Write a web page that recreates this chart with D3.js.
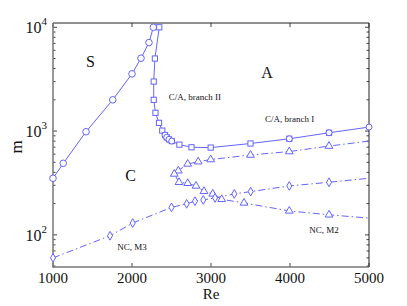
<!DOCTYPE html>
<html>
<head>
<meta charset="utf-8">
<script src="https://cdn.jsdelivr.net/npm/d3@7"></script>
<style>
  body { margin: 0; background: #fff; }
  text { font-family: "Liberation Serif", "DejaVu Serif", serif; }
</style>
</head>
<body>
<svg id="chart" width="407" height="306"></svg>
<script>
// S boundary (circles, solid)
const sRe = [1000, 1130, 1418, 1756, 2000, 2114, 2215, 2270];
const sM = [351, 489, 985, 2000, 3560, 5040, 7130, 10000];

// C/A boundary, branches II and I (squares, solid)
const caRe = [2345, 2290, 2275, 2275, 2297, 2342, 2383, 2418, 2439, 2468, 2503, 2600, 2753, 2996, 3500, 3991, 4494, 5000];
const caM = [10000, 5000, 3000, 2000, 1500, 1200, 1010, 915, 870, 832, 801, 740, 698, 693, 759, 843, 963, 1093];
// points on branch I drawn with circles
const caCircleRe = [2418, 2439, 2468, 2503, 3991, 4494, 5000];
const caCircleM = [915, 870, 832, 801, 843, 963, 1093];

// NC, M2 (triangles, dash-dot): upper branch then lower branch
const m2Re = [5000, 4494, 3991, 3500, 2996, 2838, 2705, 2586, 2535, 2595, 2705, 2810, 2911, 3022, 3135, 3418, 3991, 4494, 5000];
const m2M = [801, 717, 635, 588, 532, 507, 482, 415, 386, 321, 314, 296, 263, 248, 220, 203, 170, 156, 145];
const m2Marker = [false, true, true, true, true, true, true, true, true, true, true, true, true, true, true, true, true, true, false];

// NC, M3 (diamonds, dash-dot)
const m3Re = [1000, 1722, 2009, 2500, 2692, 2797, 2902, 3051, 3295, 3502, 3991, 4494, 5000];
const m3M = [60, 98, 130, 184, 199, 211, 217, 227, 248, 261, 296, 321, 351];
const m3Marker = [true, true, true, true, true, true, true, true, true, true, true, true, false];

const xTicks = [1000, 2000, 3000, 4000, 5000];
const yMajor = [100, 1000, 10000];

const margin = { left: 53, right: 38, top: 23, bottom: 39 };
const width = 407;
const height = 306;
const blue = "#6464ff";

const svg = d3.select("#chart");

const x = d3.scaleLinear().domain([1000, 5000]).range([margin.left, width - margin.right]);
const y = d3.scaleLog().domain([49, 11000]).range([height - margin.bottom, margin.top]);

const x0 = x.range()[0], x1 = x.range()[1];
const y0 = y.range()[0], y1 = y.range()[1];

// minor y ticks
const yMinor = [];
for (let d = 10; d <= 10000; d *= 10) {
  for (let k = 1; k < 10; k++) {
    const v = d * k;
    if (v >= 49 && v <= 11000) yMinor.push(v);
  }
}

const ticks = svg.append("g").attr("stroke", "#444").attr("stroke-width", 1);
yMinor.forEach((v) => {
  const len = yMajor.includes(v) ? 4 : 2.5;
  ticks.append("line").attr("x1", x0).attr("x2", x0 + len).attr("y1", y(v)).attr("y2", y(v));
  ticks.append("line").attr("x1", x1).attr("x2", x1 - len).attr("y1", y(v)).attr("y2", y(v));
});
xTicks.forEach((v) => {
  ticks.append("line").attr("x1", x(v)).attr("x2", x(v)).attr("y1", y0).attr("y2", y0 - 4);
  ticks.append("line").attr("x1", x(v)).attr("x2", x(v)).attr("y1", y1).attr("y2", y1 + 4);
});

// frame
svg.append("line").attr("x1", x0).attr("x2", x1).attr("y1", y1).attr("y2", y1).attr("stroke", "#222").attr("stroke-width", 1);
svg.append("line").attr("x1", x1).attr("x2", x1).attr("y1", y1).attr("y2", y0).attr("stroke", "#222").attr("stroke-width", 1);
svg.append("line").attr("x1", x0).attr("x2", x0).attr("y1", y1).attr("y2", y0 + 0.75).attr("stroke", "#777").attr("stroke-width", 1.5);
svg.append("line").attr("x1", x0).attr("x2", x1).attr("y1", y0).attr("y2", y0).attr("stroke", "#777").attr("stroke-width", 1.5);

// tick labels
svg.append("g").selectAll("text").data(xTicks).join("text")
  .attr("x", (d) => x(d)).attr("y", y0 + 16)
  .attr("text-anchor", "middle").attr("font-size", 15).attr("fill", "#111")
  .text((d) => d);

const yl = svg.append("g").selectAll("text").data(yMajor).join("text")
  .attr("x", x0 - 6).attr("y", (d) => y(d) + 6)
  .attr("text-anchor", "end").attr("font-size", 16).attr("fill", "#111");
yl.append("tspan").text("10");
yl.append("tspan").attr("dy", -8).attr("font-size", 11).text((d) => Math.round(Math.log10(d)));

svg.append("text").attr("x", (x0 + x1) / 2).attr("y", 299).attr("text-anchor", "middle")
  .attr("font-size", 15).attr("fill", "#111").text("Re");
svg.append("text").attr("transform", `translate(22,147) rotate(-90)`).attr("text-anchor", "middle")
  .attr("font-size", 17).attr("fill", "#111").text("m");

// curves
const line = d3.line().x((d) => x(d[0])).y((d) => y(d[1]));
const zip = (a, b) => a.map((v, i) => [v, b[i]]);

const plot = svg.append("g");
plot.append("path").datum(zip(sRe, sM)).attr("d", line)
  .attr("fill", "none").attr("stroke", blue).attr("stroke-width", 1);
plot.append("path").datum(zip(caRe, caM)).attr("d", line)
  .attr("fill", "none").attr("stroke", blue).attr("stroke-width", 1);
plot.append("path").datum(zip(m2Re, m2M)).attr("d", line)
  .attr("fill", "none").attr("stroke", blue).attr("stroke-width", 1).attr("stroke-dasharray", "7,3,1.5,3");
plot.append("path").datum(zip(m3Re, m3M)).attr("d", line)
  .attr("fill", "none").attr("stroke", blue).attr("stroke-width", 1).attr("stroke-dasharray", "7,3,1.5,3");

const markerStyle = (sel) => sel.attr("fill", "#fff").attr("stroke", blue).attr("stroke-width", 1);

plot.append("g").selectAll("circle").data(zip(sRe, sM)).join("circle")
  .attr("cx", (d) => x(d[0])).attr("cy", (d) => y(d[1])).attr("r", 3.3).call(markerStyle);

plot.append("g").selectAll("rect").data(zip(caRe, caM).filter((d, i) => i < caRe.length - 1)).join("rect")
  .attr("x", (d) => x(d[0]) - 2.6).attr("y", (d) => y(d[1]) - 2.6)
  .attr("width", 5.2).attr("height", 5.2).call(markerStyle);

plot.append("g").selectAll("circle").data(zip(caCircleRe, caCircleM)).join("circle")
  .attr("cx", (d) => x(d[0])).attr("cy", (d) => y(d[1])).attr("r", 3).call(markerStyle);

const tri = d3.symbol().type(d3.symbolTriangle).size(26);
plot.append("g").selectAll("path").data(zip(m2Re, m2M).filter((d, i) => m2Marker[i])).join("path")
  .attr("transform", (d) => `translate(${x(d[0])},${y(d[1])})`).attr("d", tri).call(markerStyle);

const dia = d3.symbol().type(d3.symbolDiamond).size(22);
plot.append("g").selectAll("path").data(zip(m3Re, m3M).filter((d, i) => m3Marker[i])).join("path")
  .attr("transform", (d) => `translate(${x(d[0])},${y(d[1])})`).attr("d", dia).call(markerStyle);

// region labels
const labels = [
  { t: "S", x: 1475, y: 4120, s: 16 },
  { t: "A", x: 3709, y: 3240, s: 16 },
  { t: "C", x: 1981, y: 330, s: 16 },
  { t: "C/A, branch II", x: 2465, y: 1980, s: 9, a: "start" },
  { t: "C/A, branch I", x: 3994, y: 1220, s: 9 },
  { t: "NC, M3", x: 2000, y: 72, s: 9 },
  { t: "NC, M2", x: 4430, y: 104, s: 9 }
];
svg.append("g").selectAll("text").data(labels).join("text")
  .attr("x", (d) => x(d.x)).attr("y", (d) => y(d.y))
  .attr("text-anchor", (d) => d.a || "middle").attr("font-size", (d) => d.s)
  .attr("fill", "#111").text((d) => d.t);
</script>
</body>
</html>
